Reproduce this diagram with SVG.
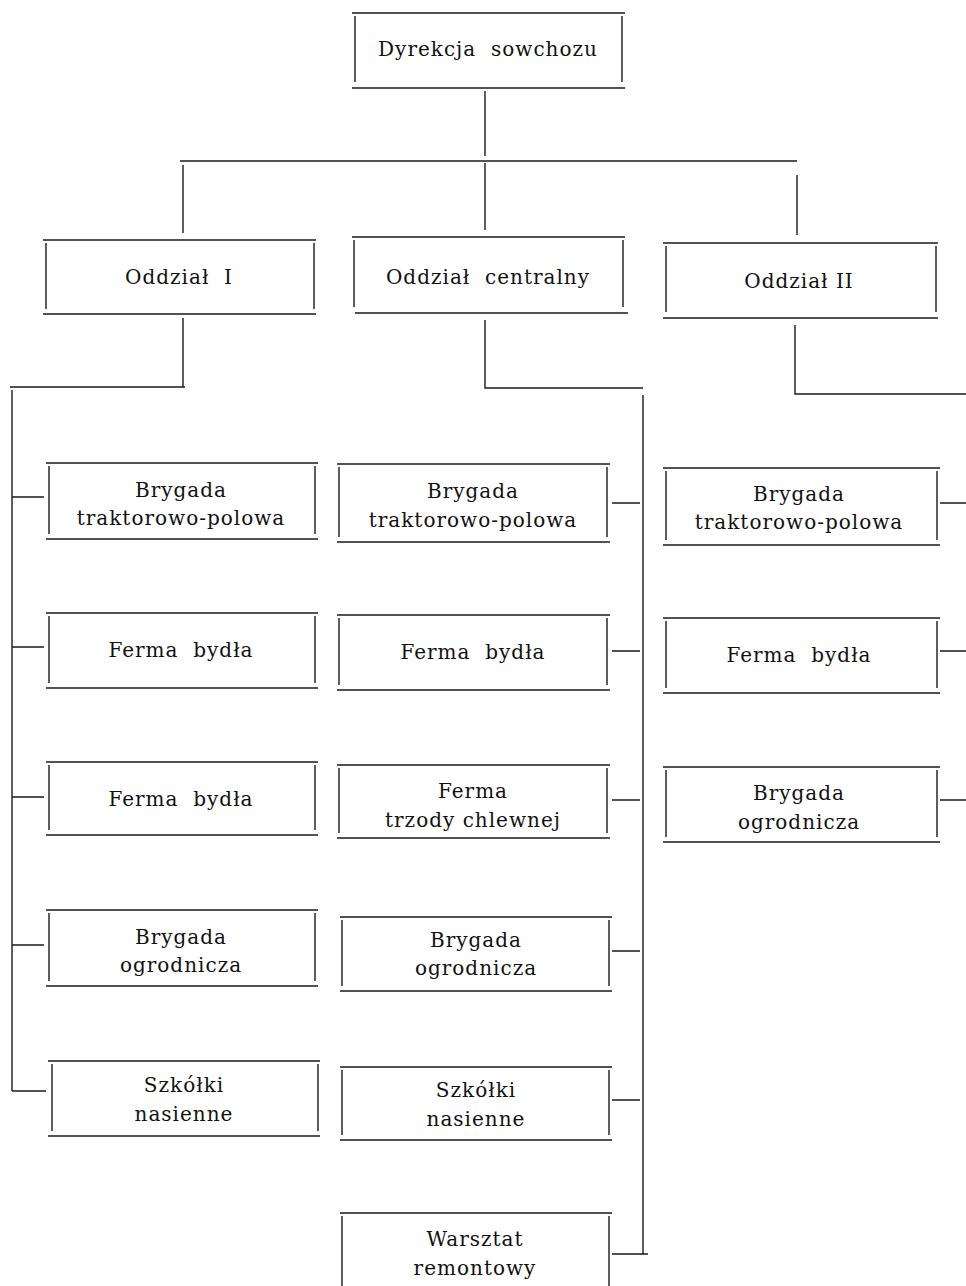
<svg xmlns="http://www.w3.org/2000/svg" width="966" height="1286" viewBox="0 0 966 1286">
<style>
.b{fill:none;stroke:#1a1a1a;stroke-width:1.4}
.c{fill:none;stroke:#1a1a1a;stroke-width:1.4}
text{font-family:"DejaVu Serif","Liberation Serif",serif;font-size:20px;letter-spacing:1px;fill:#111;text-anchor:middle;white-space:pre}
</style>
<rect width="966" height="1286" fill="#fff"/>
<g id="connectors" class="c">
<path d="M485 91V156M180 161H797M183 165V233M485 163V230M797 175V235"/>
<path d="M183 318V387M10 387H185M12 390V1091M12 497H44M12 647H44M12 797H44M12 945H44M12 1091H46"/>
<path d="M485 320V388H643M643 395V1254M612 503H640M612 651H640M612 800H640M612 951H640M612 1100H640M612 1254H648"/>
<path d="M795 325V394H966M940 503H966M940 651H966M940 800H966"/>
</g>
<g id="n-dyrekcja"><path class="b" d="M352 13H625M352 88H625M355 16V82M622 16V82"/><text x="488" y="56">Dyrekcja  sowchozu</text></g>
<g id="n-odz1"><path class="b" d="M43 240H316M43 314H316M46 243V309M314 243V309"/><text x="179" y="284">Oddział  I</text></g>
<g id="n-odzc"><path class="b" d="M352 237H625M355 313H628M354 240V307M623 240V307"/><text x="488" y="284">Oddział  centralny</text></g>
<g id="n-odz2"><path class="b" d="M663 243H938M663 318H938M666 246V312M936 246V312"/><text x="799" y="288">Oddział II</text></g>

<g id="n-l1"><path class="b" d="M46 463H318M46 539H318M49 466V534M315 466V534"/><text x="181" y="497">Brygada</text><text x="181" y="525">traktorowo-polowa</text></g>
<g id="n-l2"><path class="b" d="M46 613H318M46 688H318M49 616V683M315 616V683"/><text x="181" y="657">Ferma  bydła</text></g>
<g id="n-l3"><path class="b" d="M46 762H318M46 835H318M49 765V830M315 765V830"/><text x="181" y="806">Ferma  bydła</text></g>
<g id="n-l4"><path class="b" d="M46 910H318M46 986H318M49 913V981M315 913V981"/><text x="181" y="944">Brygada</text><text x="181" y="972">ogrodnicza</text></g>
<g id="n-l5"><path class="b" d="M48 1061H320M48 1136H320M52 1064V1131M318 1064V1131"/><text x="184" y="1092">Szkółki</text><text x="184" y="1121">nasienne</text></g>

<g id="n-c1"><path class="b" d="M337 464H610M337 542H610M339 467V537M607 467V537"/><text x="473" y="498">Brygada</text><text x="473" y="527">traktorowo-polowa</text></g>
<g id="n-c2"><path class="b" d="M337 615H610M337 690H610M339 618V685M607 618V685"/><text x="473" y="659">Ferma  bydła</text></g>
<g id="n-c3"><path class="b" d="M337 765H610M337 838H610M339 768V833M607 768V833"/><text x="473" y="798">Ferma</text><text x="473" y="827">trzody chlewnej</text></g>
<g id="n-c4"><path class="b" d="M340 917H612M340 991H612M342 920V986M609 920V986"/><text x="476" y="947">Brygada</text><text x="476" y="975">ogrodnicza</text></g>
<g id="n-c5"><path class="b" d="M340 1067H612M340 1140H612M342 1070V1135M609 1070V1135"/><text x="476" y="1097">Szkółki</text><text x="476" y="1126">nasienne</text></g>
<g id="n-c6"><path class="b" d="M340 1213H612M342 1216V1286M609 1216V1286"/><text x="475" y="1246">Warsztat</text><text x="475" y="1275">remontowy</text></g>

<g id="n-r1"><path class="b" d="M663 468H940M663 545H940M666 471V540M937 471V540"/><text x="799" y="501">Brygada</text><text x="799" y="529">traktorowo-polowa</text></g>
<g id="n-r2"><path class="b" d="M663 618H940M663 693H940M666 621V688M937 621V688"/><text x="799" y="662">Ferma  bydła</text></g>
<g id="n-r3"><path class="b" d="M663 767H940M663 842H940M666 770V837M937 770V837"/><text x="799" y="800">Brygada</text><text x="799" y="829">ogrodnicza</text></g>
</svg>
